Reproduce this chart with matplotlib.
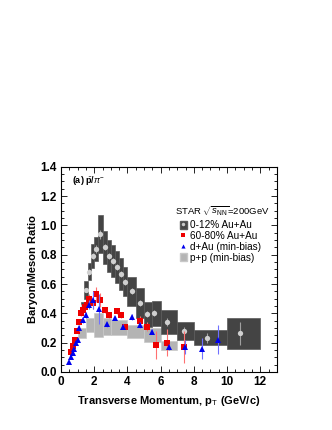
import matplotlib
matplotlib.use("Agg")
import matplotlib.pyplot as plt
from matplotlib.patches import Patch
from matplotlib.lines import Line2D
from matplotlib.legend_handler import HandlerTuple
from matplotlib.ticker import MultipleLocator

plt.rcParams['font.family'] = ['Liberation Sans', 'DejaVu Sans']
plt.rcParams['mathtext.fontset'] = 'custom'
plt.rcParams['mathtext.rm'] = 'Liberation Sans'
plt.rcParams['mathtext.it'] = 'Liberation Sans:italic'
plt.rcParams['mathtext.bf'] = 'Liberation Sans:bold'

# 0-12% Au+Au (central): value, stat error, systematic box
auc_x = [1.3, 1.5, 1.7, 1.9, 2.1, 2.34, 2.66, 2.9, 3.14, 3.38, 3.62, 3.86,
         4.3, 4.74, 5.2, 5.6, 6.4, 7.4, 8.8, 10.8]
auc_y = [0.45, 0.56, 0.685, 0.79, 0.84, 0.94, 0.85, 0.79, 0.755, 0.715, 0.67, 0.615,
         0.55, 0.47, 0.395, 0.40, 0.34, 0.28, 0.233, 0.263]
auc_stat = [0.01, 0.015, 0.02, 0.02, 0.025, 0.03, 0.02, 0.02, 0.02, 0.02, 0.02, 0.02,
            0.02, 0.02, 0.02, 0.02, 0.025, 0.03, 0.035, 0.08]
auc_sys = [0.03, 0.06, 0.06, 0.08, 0.08, 0.13, 0.11, 0.11, 0.11, 0.11, 0.11, 0.10,
           0.10, 0.10, 0.085, 0.085, 0.08, 0.06, 0.05, 0.107]
auc_lo = [1.2, 1.4, 1.6, 1.8, 2.0, 2.2, 2.5, 2.75, 3.0, 3.25, 3.5, 3.75,
          4.0, 4.5, 5.0, 5.5, 6.0, 7.0, 8.0, 10.0]
auc_hi = [1.4, 1.6, 1.8, 2.0, 2.2, 2.5, 2.75, 3.0, 3.25, 3.5, 3.75, 4.0,
          4.5, 5.0, 5.5, 6.0, 7.0, 8.0, 10.0, 12.0]

# 60-80% Au+Au (peripheral)
aup_x = [0.58, 0.7, 0.82, 0.94, 1.06, 1.18, 1.3, 1.42, 1.54, 1.7, 1.9, 2.1, 2.34,
         2.66, 2.9, 3.38, 3.62, 3.86, 4.74, 5.2, 5.74, 6.4, 7.4]
aup_y = [0.137, 0.18, 0.22, 0.28, 0.34, 0.40, 0.425, 0.445, 0.46, 0.50, 0.47, 0.53, 0.49,
         0.425, 0.39, 0.415, 0.39, 0.31, 0.35, 0.31, 0.185, 0.20, 0.17]
aup_err = [0.01, 0.01, 0.01, 0.015, 0.015, 0.02, 0.02, 0.02, 0.02, 0.03, 0.04, 0.05, 0.05,
           0.02, 0.02, 0.02, 0.02, 0.02, 0.03, 0.03, 0.095, 0.09, 0.11]

# d+Au (min-bias)
dau_x = [0.5, 0.6, 0.7, 0.8, 0.9, 1.0, 1.1, 1.3, 1.5, 1.7, 1.9, 2.26, 2.74, 3.24,
         3.74, 4.26, 4.74, 5.5, 6.5, 7.48, 8.48, 9.48]
dau_y = [0.068, 0.10, 0.13, 0.16, 0.20, 0.22, 0.30, 0.355, 0.39, 0.46, 0.49, 0.43, 0.325,
         0.37, 0.31, 0.375, 0.32, 0.275, 0.17, 0.17, 0.16, 0.22]
dau_err = [0.005, 0.01, 0.01, 0.01, 0.01, 0.015, 0.02, 0.02, 0.02, 0.03, 0.06, 0.10, 0.015,
           0.015, 0.015, 0.02, 0.02, 0.015, 0.02, 0.05, 0.07, 0.10]

# p+p (min-bias) bands
pp_lo = [1.0, 1.5, 2.0, 2.5, 3.0, 4.0, 5.0, 6.0]
pp_hi = [1.5, 2.0, 2.5, 3.0, 4.0, 5.0, 6.0, 7.0]
pp_bot = [0.23, 0.27, 0.24, 0.25, 0.25, 0.23, 0.205, 0.15]
pp_top = [0.30, 0.37, 0.40, 0.365, 0.355, 0.32, 0.30, 0.21]

fig = plt.figure(figsize=(3.32, 4.30), dpi=100)
ax = fig.add_axes([0.184, 0.135, 0.650, 0.477])

# p+p boxes
ax.bar(pp_lo, [t - b for t, b in zip(pp_top, pp_bot)], bottom=pp_bot,
       width=[h - l for h, l in zip(pp_hi, pp_lo)], align='edge',
       color='#b4b4b4', edgecolor='#c8c8c8', linewidth=0.5, zorder=1)

# central Au+Au systematic boxes
ax.bar(auc_lo, [2 * s for s in auc_sys], bottom=[y - s for y, s in zip(auc_y, auc_sys)],
       width=[h - l for h, l in zip(auc_hi, auc_lo)], align='edge',
       color='#444444', edgecolor='#5a5a5a', linewidth=0.5, zorder=2)

ax.errorbar(auc_x, auc_y, yerr=auc_stat, fmt='o', ms=3.8, color='#d0d0d0',
            ecolor='#a0a0a0', elinewidth=0.8, capsize=1.2, mew=0, zorder=3)
ax.errorbar(aup_x, aup_y, yerr=aup_err, fmt='s', ms=3.8, color='#ee0000',
            ecolor='#ff7070', elinewidth=0.8, capsize=1.2, mew=0, zorder=4)
ax.errorbar(dau_x, dau_y, yerr=dau_err, fmt='^', ms=4.6, color='#0000ee',
            ecolor='#7070ff', elinewidth=0.8, capsize=1.2, mew=0, zorder=5)

ax.set_xlim(0, 13)
ax.set_ylim(0, 1.4)
ax.xaxis.set_major_locator(MultipleLocator(2))
ax.xaxis.set_minor_locator(MultipleLocator(0.5))
ax.yaxis.set_major_locator(MultipleLocator(0.2))
ax.yaxis.set_minor_locator(MultipleLocator(0.05))
ax.yaxis.set_major_formatter(matplotlib.ticker.FormatStrFormatter('%.1f'))
ax.tick_params(which='both', direction='in', top=True, right=True, width=0.6,
               labelsize=8.5, pad=3)
ax.tick_params(which='major', length=4)
ax.tick_params(which='minor', length=2)
for lab in ax.get_xticklabels() + ax.get_yticklabels():
    lab.set_fontweight('bold')
for sp in ax.spines.values():
    sp.set_linewidth(0.8)

ax.set_xlabel(r'Transverse Momentum, p$_{\mathrm{T}}$ (GeV/c)', fontsize=8,
              fontweight='bold', labelpad=4)
ax.set_ylabel('Baryon/Meson Ratio', fontsize=8, fontweight='bold', labelpad=2)

ax.text(0.05, 0.965, r'(a) $\bar{\mathbf{p}}$/$\pi^{-}$', transform=ax.transAxes,
        fontsize=6.5, fontweight='bold', va='top', ha='left')
ax.text(0.53, 0.785, r'STAR $\sqrt{s_{\mathrm{NN}}}$=200GeV', transform=ax.transAxes,
        fontsize=6.8, va='center', ha='left')

h1 = (Patch(facecolor='#444444', edgecolor='#5a5a5a'),
      Line2D([], [], marker='o', ls='', ms=2.5, color='#c8c8c8', mew=0))
h2 = Line2D([], [], marker='s', ls='', ms=3, color='#ee0000', mew=0)
h3 = Line2D([], [], marker='^', ls='', ms=3, color='#0000ee', mew=0)
h4 = Patch(facecolor='#b4b4b4', edgecolor='#c8c8c8')
ax.legend([h1, h2, h3, h4],
          ['0-12% Au+Au', '60-80% Au+Au', 'd+Au (min-bias)', 'p+p (min-bias)'],
          handler_map={tuple: HandlerTuple(ndivide=1)},
          loc='upper left', bbox_to_anchor=(0.55, 0.74), frameon=False,
          fontsize=7.2, handlelength=0.7, handleheight=0.9, handletextpad=0.3,
          labelspacing=0.08, borderpad=0, borderaxespad=0)

fig.savefig('out.png', dpi=100)
